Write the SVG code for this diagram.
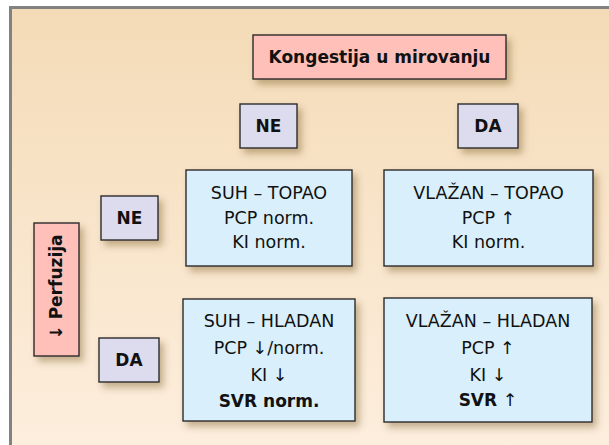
<svg xmlns="http://www.w3.org/2000/svg" width="609" height="445" viewBox="0 0 609 445">
  <defs>
    <linearGradient id="bg" x1="0" y1="0" x2="0" y2="1">
      <stop offset="0" stop-color="#f4dbb7"/>
      <stop offset="1" stop-color="#fdefdf"/>
    </linearGradient>
    <filter id="sh" x="-20%" y="-20%" width="150%" height="160%">
      <feDropShadow dx="4" dy="5" stdDeviation="3.5" flood-color="#5a3a10" flood-opacity="0.35"/>
    </filter>
  </defs>
  <style>
    .box { stroke: #2b2b2b; stroke-width: 1.4; filter: url(#sh); }
    .pink { fill: #ffc0b9; }
    .lav { fill: #dcdcee; }
    .blue { fill: #d9effb; }
    text { font-family: "DejaVu Sans", "Liberation Sans", sans-serif; font-size: 17.5px; fill: #111; text-anchor: middle; }
    .b { font-weight: bold; font-size: 17px; }
  </style>
  <rect x="0" y="0" width="609" height="445" fill="#ffffff"/>
  <rect x="10.5" y="7.5" width="620" height="460" fill="url(#bg)" stroke="#828282" stroke-width="3"/>

  <g id="connectors"/>

  <g id="kongestija">
    <rect class="box pink" x="253" y="35" width="253" height="44"/>
    <text class="b" x="379.5" y="63">Kongestija u mirovanju</text>
  </g>
  <g id="ne-top">
    <rect class="box lav" x="240" y="104" width="57" height="44"/>
    <text class="b" x="268.5" y="132">NE</text>
  </g>
  <g id="da-top">
    <rect class="box lav" x="458" y="104" width="60" height="44"/>
    <text class="b" x="488" y="132">DA</text>
  </g>
  <g id="perfuzija">
    <rect class="box pink" x="34" y="223" width="45" height="133"/>
    <text class="b" transform="translate(62 287) rotate(-90)" x="0" y="0">↓ Perfuzija</text>
  </g>
  <g id="ne-left">
    <rect class="box lav" x="101" y="196" width="57" height="44"/>
    <text class="b" x="129.5" y="224">NE</text>
  </g>
  <g id="da-left">
    <rect class="box lav" x="99" y="338" width="60" height="44"/>
    <text class="b" x="129" y="366">DA</text>
  </g>
  <g id="suh-topao">
    <rect class="box blue" x="186" y="170" width="166" height="96"/>
    <text x="269" y="199">SUH – TOPAO</text>
    <text x="269" y="223.5">PCP norm.</text>
    <text x="269" y="248">KI norm.</text>
  </g>
  <g id="vlazan-topao">
    <rect class="box blue" x="384" y="170" width="209" height="96"/>
    <text x="488.5" y="199">VLAŽAN – TOPAO</text>
    <text x="488.5" y="223.5">PCP ↑</text>
    <text x="488.5" y="248">KI norm.</text>
  </g>
  <g id="suh-hladan">
    <rect class="box blue" x="183" y="299" width="172" height="122"/>
    <text x="269" y="327">SUH – HLADAN</text>
    <text x="269" y="354">PCP ↓/norm.</text>
    <text x="269" y="380.5">KI ↓</text>
    <text x="269" y="407"><tspan class="b">SVR norm.</tspan></text>
  </g>
  <g id="vlazan-hladan">
    <rect class="box blue" x="384" y="298" width="208" height="124"/>
    <text x="488" y="327">VLAŽAN – HLADAN</text>
    <text x="488" y="354">PCP ↑</text>
    <text x="488" y="380.5">KI ↓</text>
    <text x="488" y="406"><tspan class="b">SVR</tspan> ↑</text>
  </g>
</svg>
